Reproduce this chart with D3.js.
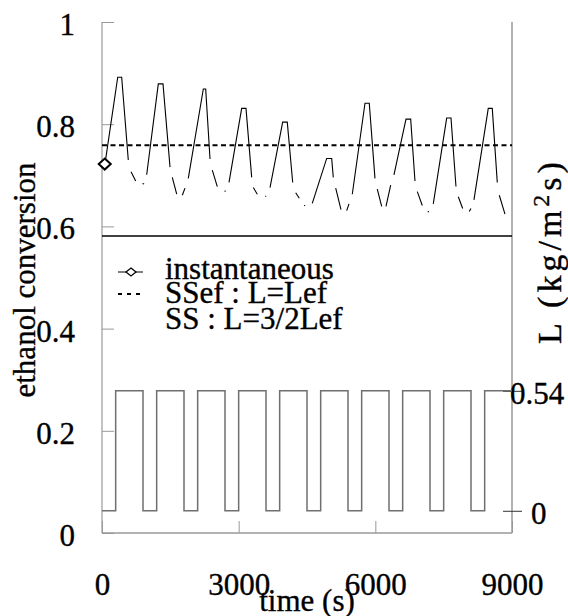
<!DOCTYPE html>
<html>
<head>
<meta charset="utf-8">
<script src="https://cdn.jsdelivr.net/npm/d3@7/dist/d3.min.js"></script>
<style>
  html, body { margin: 0; padding: 0; background: #fff; }
  svg { display: block; }
</style>
</head>
<body>
<svg id="chart" width="568" height="616"></svg>
<script>
// ---- data ----
const X_TICKS = [0, 3000, 6000, 9000];
const Y_TICKS = [0, 0.2, 0.4, 0.6, 0.8, 1];
const L_TICKS = [0, 0.54];

// instantaneous ethanol conversion (null = break in the drawn line)
const convT = [60, 88, 345, 432, 577, null, 637, 740, null, 890, 925, null,
  981, 1236, 1339, 1493, null, 1543, 1640, null, 1763, 1822, null,
  1894, 2224, 2276, 2371, null, 2421, 2531, null, 2690, 2715, null,
  2788, 3066, 3161, 3286, null, 3321, 3409, null, 3580, 3605, null,
  3688, 3966, 4067, 4186, null, 4252, 4331, null, 4435, 4460, null,
  4616, 4932, 5042, 5077, null, 5130, 5246, null, 5371, 5422, null,
  5494, 5773, 5867, 5992, null, 6043, 6139, null, 6234, 6337, null,
  6409, 6578, 6673, 6776, 6870, null, 6921, 7031, null, 7150, 7175, null,
  7272, 7566, 7661, 7770, null, 7821, 7917, null, 8062, 8099, null,
  8165, 8479, 8567, 8677, null, 8721, 8846];
const convV = [0.722, 0.736, 0.892, 0.892, 0.730, null, 0.707, 0.689, null, 0.684, 0.683, null,
  0.701, 0.879, 0.879, 0.716, null, 0.696, 0.663, null, 0.661, 0.675, null,
  0.694, 0.869, 0.869, 0.732, null, 0.710, 0.678, null, 0.669, 0.669, null,
  0.686, 0.831, 0.831, 0.696, null, 0.676, 0.663, null, 0.659, 0.659, null,
  0.676, 0.804, 0.804, 0.686, null, 0.666, 0.655, null, 0.641, 0.641, null,
  0.645, 0.733, 0.733, 0.696, null, 0.675, 0.633, null, 0.631, 0.644, null,
  0.663, 0.841, 0.841, 0.694, null, 0.673, 0.639, null, 0.639, 0.681, null,
  0.701, 0.771, 0.810, 0.810, 0.689, null, 0.668, 0.641, null, 0.629, 0.629, null,
  0.644, 0.812, 0.812, 0.678, null, 0.658, 0.635, null, 0.629, 0.635, null,
  0.652, 0.831, 0.831, 0.686, null, 0.661, 0.624];

// steady-state references
const SSEF = 0.759;   // SSef : L=Lef
const SS = 0.581;     // SS : L=3/2Lef

// liquid flow L (kg/m2s), step function
const LT = [0, 300, 900, 1200, 1800, 2100, 2700, 3000, 3600, 3900, 4500, 4800,
  5400, 5700, 6300, 6600, 7200, 7500, 8100, 8400, 9000];
const LV = [0, 0.54, 0, 0.54, 0, 0.54, 0, 0.54, 0, 0.54, 0, 0.54,
  0, 0.54, 0, 0.54, 0, 0.54, 0, 0.54, 0.54];

const LEGEND = ["instantaneous", "SSef : L=Lef", "SS : L=3/2Lef"];

// ---- layout ----
const FONT = 31;
const PL = 102, PR = 512, PT = 22, PB = 533;
const FF = "'Liberation Serif', 'Times New Roman', serif";
const AX = "#999";
const svg = d3.select("#chart");

const x = d3.scaleLinear().domain([0, 9000]).range([PL, PR]);
const y = d3.scaleLinear().domain([0, 1]).range([PB, PT]);
const yR = d3.scaleLinear().domain([-0.1, 2.2]).range([PB, PT]);

const styleText = sel => sel.style("font-family", FF).style("font-size", FONT + "px")
  .style("fill", "#000").style("stroke", "#000").style("stroke-width", "0.35px");

// left axis
const gL = svg.append("g").attr("transform", `translate(${PL},0)`)
  .call(d3.axisLeft(y).tickValues(Y_TICKS).tickSize(-12).tickPadding(27)
    .tickFormat(d => String(d)));
gL.select(".domain").remove();
gL.selectAll(".tick line").attr("stroke", AX);
gL.selectAll(".tick text").attr("dy", "0.4em").call(styleText);

// bottom axis
const gB = svg.append("g").attr("transform", `translate(0,${PB})`)
  .call(d3.axisBottom(x).tickValues(X_TICKS).tickSize(-12).tickPadding(40)
    .tickFormat(d3.format("d")));
gB.select(".domain").remove();
gB.selectAll(".tick line").attr("stroke", AX);
gB.selectAll(".tick text").call(styleText);

// frame lines (left, bottom, right)
svg.append("line").attr("x1", PL).attr("x2", PL).attr("y1", PT).attr("y2", PB)
  .attr("stroke", AX).attr("stroke-width", 1.2);
svg.append("line").attr("x1", PL).attr("x2", PR).attr("y1", PB).attr("y2", PB)
  .attr("stroke", AX).attr("stroke-width", 1.5);
svg.append("line").attr("x1", PR).attr("x2", PR).attr("y1", PT).attr("y2", PB)
  .attr("stroke", AX).attr("stroke-width", 1.5);

// right axis
const gR = svg.append("g").attr("transform", `translate(${PR},0)`)
  .call(d3.axisRight(yR).tickValues(L_TICKS).tickSize(10).tickPadding(9)
    .tickFormat(d => d === 0 ? "0" : d3.format(".2f")(d)));
gR.select(".domain").remove();
gR.selectAll(".tick line").attr("x1", -9).attr("x2", 10).attr("stroke", "#333");
gR.selectAll(".tick text").attr("dy", "0.4em").call(styleText)
  .attr("x", d => d === 0 ? 19 : -2);

// L square wave
const lData = LT.map((t, i) => ({ t, v: LV[i] }));
svg.append("path").datum(lData)
  .attr("fill", "none").attr("stroke", "#6f6f6f").attr("stroke-width", 1.5)
  .attr("d", d3.line().x(d => x(d.t)).y(d => yR(d.v)).curve(d3.curveStepAfter));

// SS solid line
svg.append("line").attr("x1", x(0)).attr("x2", x(9000)).attr("y1", y(SS)).attr("y2", y(SS))
  .attr("stroke", "#000").attr("stroke-width", 1.5);
// SSef dashed line
svg.append("line").attr("x1", x(0)).attr("x2", x(9000)).attr("y1", y(SSEF)).attr("y2", y(SSEF))
  .attr("stroke", "#000").attr("stroke-width", 2).attr("stroke-dasharray", "5,3.5");

// instantaneous conversion
const cData = convT.map((t, i) => ({ t, v: convV[i] }));
svg.append("path").datum(cData)
  .attr("fill", "none").attr("stroke", "#000").attr("stroke-width", 1.1)
  .attr("d", d3.line().defined(d => d.t !== null && d.v !== null)
    .x(d => x(d.t)).y(d => y(d.v)));

// diamond marker at first point
const diamond = (cx, cy, w, h) => `M${cx},${cy - h}L${cx + w},${cy}L${cx},${cy + h}L${cx - w},${cy}Z`;
svg.append("path").attr("d", diamond(x(cData[0].t), y(cData[0].v), 6, 5.5))
  .attr("fill", "#fff").attr("stroke", "#000").attr("stroke-width", 2);

// legend
const lg = svg.append("g");
const lgX = 118, lgTextX = 165, lgBase = [279, 303, 329];
lg.append("line").attr("x1", lgX).attr("x2", lgX + 25).attr("y1", 272).attr("y2", 272)
  .attr("stroke", "#000").attr("stroke-width", 1);
lg.append("path").attr("d", diamond(lgX + 13, 272, 5, 4))
  .attr("fill", "#fff").attr("stroke", "#000").attr("stroke-width", 1.3);
lg.append("line").attr("x1", lgX).attr("x2", lgX + 25).attr("y1", 294).attr("y2", 294)
  .attr("stroke", "#000").attr("stroke-width", 2).attr("stroke-dasharray", "4,5");
LEGEND.forEach((s, i) => {
  lg.append("text").attr("x", lgTextX).attr("y", lgBase[i]).call(styleText).text(s);
});

// axis titles
svg.append("text").attr("transform", "translate(35,280) rotate(-90)")
  .attr("text-anchor", "middle").call(styleText).text("ethanol conversion");
svg.append("text").attr("x", 307).attr("y", 611)
  .attr("text-anchor", "middle").call(styleText).text("time (s)");
const rt = svg.append("text").attr("transform", "translate(561,251) rotate(-90)")
  .attr("text-anchor", "middle").call(styleText)
  .style("font-size", "34px").style("letter-spacing", "4px");
rt.append("tspan").text("L (kg/m");
rt.append("tspan").style("font-size", "24px").attr("dy", "-12").text("2");
rt.append("tspan").attr("dy", "12").text("s)");
</script>
</body>
</html>
